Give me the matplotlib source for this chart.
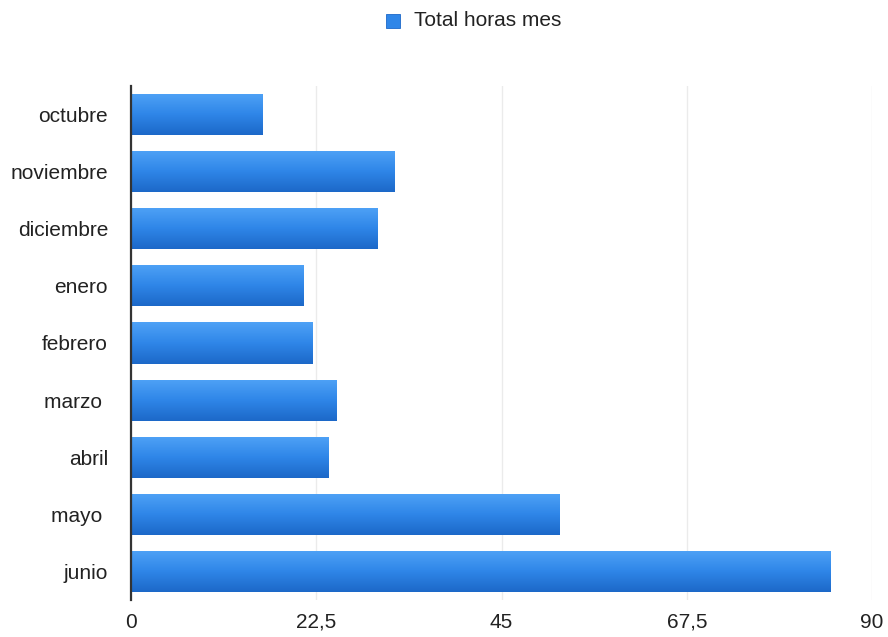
import matplotlib
matplotlib.use("Agg")
import matplotlib.pyplot as plt
import numpy as np
from matplotlib.colors import LinearSegmentedColormap

categories = ["octubre", "noviembre", "diciembre", "enero", "febrero", "marzo ", "abril", "mayo ", "junio"]
values = [16, 32, 30, 21, 22, 25, 24, 52, 85]
xticks = [0, 22.5, 45, 67.5, 90]
xtick_labels = ["0", "22,5", "45", "67,5", "90"]
series_name = "Total horas mes"

plt.rcParams['font.family'] = ['Liberation Sans', 'DejaVu Sans']

fig = plt.figure(figsize=(8.88, 6.37), dpi=100)
ax = fig.add_axes([131/888, 1-600/637, (872-131)/888, (600-86)/637])

y = np.arange(len(categories))
bars = ax.barh(y, values, height=0.72, color="#2f86e8", edgecolor="none", zorder=2)

cmap = LinearSegmentedColormap.from_list("g", ["#4fa2f6", "#2f86e8", "#1c68c8"])
grad = np.linspace(0, 1, 256).reshape(-1, 1)
for b in bars:
    x0, y0 = b.get_x(), b.get_y()
    w, h = b.get_width(), b.get_height()
    im = ax.imshow(grad, cmap=cmap, aspect="auto", extent=[x0, x0 + w, y0 + h, y0],
                   origin="upper", zorder=3, interpolation="bilinear")
    im.set_clip_path(b)

ax.set_xlim(0, 90)
ax.set_ylim(len(categories) - 0.5, -0.5)
ax.set_yticks(y)
ax.set_yticklabels(categories, fontsize=15, color="#222222")
ax.set_xticks(xticks)
ax.set_xticklabels(xtick_labels, fontsize=15, color="#222222")
ax.tick_params(axis="both", length=0)
ax.tick_params(axis="y", pad=16.5)
ax.tick_params(axis="x", pad=9)

for s in ["top", "right", "bottom"]:
    ax.spines[s].set_visible(False)
ax.spines["left"].set_color("#333333")
ax.spines["left"].set_linewidth(1.6)
ax.spines["left"].set_zorder(5)

ax.xaxis.grid(True, color="#ebebeb", linewidth=1.0, zorder=0)
ax.set_axisbelow(True)

# legend
lx, ly = 386/888, 1-21/637
fig.patches.append(plt.Rectangle((lx, ly - 7/637), 14/888, 14/637, transform=fig.transFigure,
                                 facecolor="#2f86e8", edgecolor="#1c68c8", linewidth=0.6))
fig.text(414/888, ly, series_name, fontsize=15, va="center", ha="left", color="#222222")

fig.savefig("out.png", dpi=100, facecolor="white")
